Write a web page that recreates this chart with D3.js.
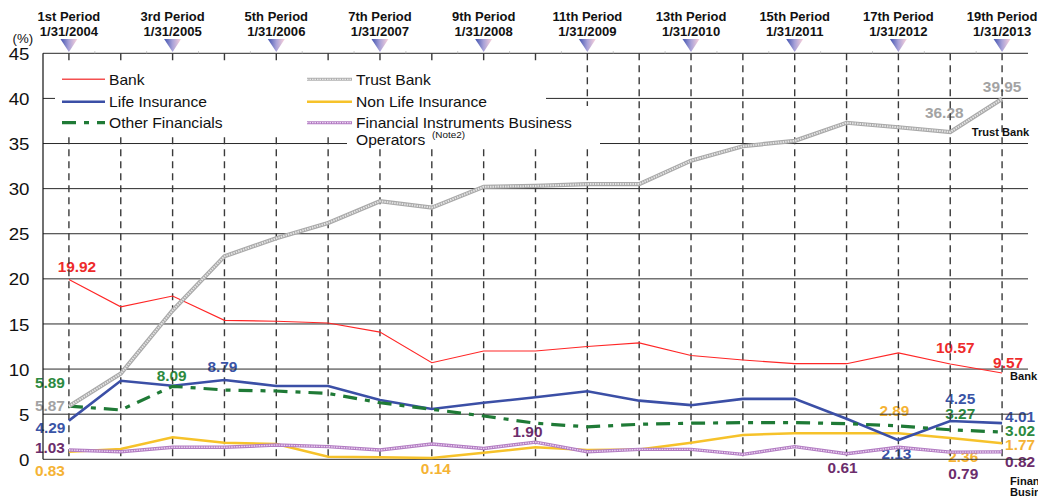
<!DOCTYPE html>
<html>
<head>
<meta charset="utf-8">
<script src="https://cdn.jsdelivr.net/npm/d3@7"></script>
<style>
  html, body { margin: 0; padding: 0; background: #fff; }
  svg { display: block; font-family: "Liberation Sans", Arial, Helvetica, sans-serif; }
</style>
</head>
<body>
<svg id="chart" width="1038" height="497"></svg>
<script>
// Fiscal periods (half-year, ending January / July)
const periodNames = ["1st Period","2nd Period","3rd Period","4th Period","5th Period","6th Period",
  "7th Period","8th Period","9th Period","10th Period","11th Period","12th Period","13th Period",
  "14th Period","15th Period","16th Period","17th Period","18th Period","19th Period"];
const periodDates = ["1/31/2004","7/31/2004","1/31/2005","7/31/2005","1/31/2006","7/31/2006",
  "1/31/2007","7/31/2007","1/31/2008","7/31/2008","1/31/2009","7/31/2009","1/31/2010",
  "7/31/2010","1/31/2011","7/31/2011","1/31/2012","7/31/2012","1/31/2013"];

// Unitholder ratios by investor type (%)
const bank      = [19.92, 16.9, 18.1, 15.4, 15.3, 15.1, 14.1, 10.7, 12.0, 12.0, 12.5, 12.9, 11.5, 11.0, 10.6, 10.6, 11.8, 10.57, 9.57];
const trustBank = [5.87, 9.5, 16.5, 22.5, 24.5, 26.2, 28.6, 27.9, 30.2, 30.3, 30.5, 30.5, 33.1, 34.7, 35.3, 37.3, 36.8, 36.28, 39.95];
const lifeIns   = [4.29, 8.7, 8.15, 8.79, 8.13, 8.13, 6.57, 5.58, 6.27, 6.87, 7.54, 6.5, 6.0, 6.7, 6.7, 4.5, 2.13, 4.25, 4.01];
const nonLifeIns = [0.83, 1.14, 2.44, 1.84, 1.7, 0.29, 0.22, 0.14, 0.73, 1.33, 1.03, 1.1, 1.84, 2.7, 2.88, 2.9, 2.89, 2.36, 1.77];
const otherFin  = [5.89, 5.47, 8.09, 7.68, 7.57, 7.3, 6.27, 5.54, 4.8, 4.0, 3.6, 3.88, 4.0, 4.06, 4.06, 3.95, 3.7, 3.27, 3.02];
const finInstr  = [1.03, 0.84, 1.33, 1.33, 1.58, 1.4, 1.03, 1.7, 1.2, 1.90, 0.84, 1.1, 1.1, 0.55, 1.4, 0.61, 1.33, 0.79, 0.82];

const yTicks = [0, 5, 10, 15, 20, 25, 30, 35, 40, 45];

const svg = d3.select("#chart");
const plot = { left: 43, right: 1028, top: 53.3, bottom: 459.3 };

const x = d3.scaleBand().domain(d3.range(periodNames.length)).range([plot.left, plot.right]);
const cx = i => x(i) + x.bandwidth() / 2;
const y = d3.scaleLinear().domain([0, 45]).range([plot.bottom, plot.top]);

// type is drawn slightly wide
function put(sel, px, py, anchor, sx) {
  return sel.attr("transform", `translate(${px},${py}) scale(${sx || 1.1},1)`)
            .attr("text-anchor", anchor || "start");
}

// gradient for period markers
const defs = svg.append("defs");
const grad = defs.append("linearGradient").attr("id", "markGrad")
  .attr("x1", "0%").attr("x2", "100%").attr("y1", "0%").attr("y2", "0%");
grad.append("stop").attr("offset", "0%").attr("stop-color", "#3f52b0");
grad.append("stop").attr("offset", "50%").attr("stop-color", "#a9a2d8");
grad.append("stop").attr("offset", "100%").attr("stop-color", "#fbd2da");

// header: odd periods
const header = svg.append("g");
periodNames.forEach((name, i) => {
  if (i % 2 !== 0) return;
  const px = cx(i);
  put(header.append("text"), px, 20.5, "middle", 1.03)
    .attr("font-size", 12.6).attr("font-weight", "bold").attr("fill", "#111").text(name);
  put(header.append("text"), px, 36, "middle", 1.04)
    .attr("font-size", 12.6).attr("font-weight", "bold").attr("fill", "#111").text(periodDates[i]);
  header.append("path")
    .attr("d", `M${px - 8.5},39 L${px + 8.5},39 L${px},52 Z`)
    .attr("fill", "url(#markGrad)");
});

// value labels (drawn beneath the grid and lines)
const labelColors = {
  bank: "#ee2b2b", trust: "#a3a3a3", life: "#3a54a6",
  other: "#2c8a40", nonLife: "#f5b334", fin: "#6c2d6c"
};
const dataByKey = { bank: bank, trust: trustBank, life: lifeIns, other: otherFin, nonLife: nonLifeIns, fin: finInstr };
const callouts = [
  { k: "bank", i: 0, dx: 8, dy: -13 },
  { k: "bank", i: 17, dx: 5, dy: -16 },
  { k: "bank", i: 18, dx: 6, dy: -10 },
  { k: "trust", i: 0, dx: -19, dy: 0 },
  { k: "trust", i: 17, dx: -6, dy: -19 },
  { k: "trust", i: 18, dx: 0, dy: -12 },
  { k: "life", i: 0, dx: -18.5, dy: 7.5 },
  { k: "life", i: 3, dx: -2, dy: -13 },
  { k: "life", i: 16, dx: -2, dy: 14 },
  { k: "life", i: 17, dx: 10, dy: -22 },
  { k: "life", i: 18, dx: 18, dy: -6 },
  { k: "other", i: 0, dx: -19, dy: -23 },
  { k: "other", i: 2, dx: -1, dy: -10 },
  { k: "other", i: 17, dx: 10, dy: -16 },
  { k: "other", i: 18, dx: 18, dy: -1 },
  { k: "nonLife", i: 0, dx: -19, dy: 19 },
  { k: "nonLife", i: 7, dx: 4, dy: 11 },
  { k: "nonLife", i: 16, dx: -4, dy: -22 },
  { k: "nonLife", i: 17, dx: 13, dy: 19 },
  { k: "nonLife", i: 18, dx: 18, dy: 2 },
  { k: "fin", i: 0, dx: -19, dy: -2 },
  { k: "fin", i: 9, dx: -8, dy: -10 },
  { k: "fin", i: 15, dx: -4, dy: 14 },
  { k: "fin", i: 17, dx: 13, dy: 22 },
  { k: "fin", i: 18, dx: 18, dy: 10 }
];
const labelG = svg.append("g");
callouts.forEach(c => {
  const v = dataByKey[c.k][c.i];
  put(labelG.append("text"), cx(c.i) + c.dx, y(v) + c.dy, "middle")
    .attr("dy", "0.36em")
    .attr("font-size", 14).attr("font-weight", "bold")
    .attr("fill", labelColors[c.k]).text(v.toFixed(2));
});

// grid
const grid = svg.append("g");
grid.selectAll("line.h").data(yTicks).join("line")
  .attr("x1", plot.left).attr("x2", plot.right)
  .attr("y1", d => y(d)).attr("y2", d => y(d))
  .attr("stroke", "#2a2a2a").attr("stroke-width", 1);
grid.selectAll("line.v").data(d3.range(periodNames.length)).join("line")
  .attr("x1", d => cx(d)).attr("x2", d => cx(d))
  .attr("y1", plot.top).attr("y2", plot.bottom)
  .attr("stroke", "#3a3a3a").attr("stroke-width", 1.4)
  .attr("stroke-dasharray", "7,5");
// small category ticks on the top edge
grid.selectAll("line.t").data(d3.range(1, periodNames.length)).join("line")
  .attr("x1", d => x(d)).attr("x2", d => x(d))
  .attr("y1", plot.top - 2).attr("y2", plot.top)
  .attr("stroke", "#bbb").attr("stroke-width", 1);
grid.append("line")
  .attr("x1", plot.left).attr("x2", plot.left)
  .attr("y1", plot.top).attr("y2", plot.bottom)
  .attr("stroke", "#111").attr("stroke-width", 1.2);

// y axis labels
const yAxis = svg.append("g")
  .attr("transform", `translate(${plot.left},0)`)
  .call(d3.axisLeft(y).tickValues(yTicks).tickSize(0).tickPadding(0));
yAxis.select(".domain").remove();
yAxis.selectAll(".tick text").each(function() {
  const t = d3.select(this);
  t.attr("x", null).attr("dy", null).attr("font-family", null);
  put(t, -13.5, 0, "end").attr("dy", "0.36em").attr("font-size", 17).attr("fill", "#111");
});
put(svg.append("text"), 12.5, 43, "start").attr("font-size", 12).attr("fill", "#111").text("(%)");

// legend background
const legend = svg.append("g");
legend.append("rect").attr("x", 55).attr("y", 62).attr("width", 491).attr("height", 73).attr("fill", "#fff");
legend.append("rect").attr("x", 347).attr("y", 106).attr("width", 253).attr("height", 42).attr("fill", "#fff");

// series lines
const line = d3.line().x((d, i) => cx(i)).y(d => y(d));
const lines = svg.append("g").attr("fill", "none").attr("stroke-linejoin", "miter");

function texturedPath(g, values, base, baseW, top, topW) {
  g.append("path").attr("d", line(values)).attr("stroke", base).attr("stroke-width", baseW);
  g.append("path").attr("d", line(values)).attr("stroke", top).attr("stroke-width", topW)
    .attr("stroke-dasharray", "1.5,1");
}

lines.append("path").attr("d", line(nonLifeIns)).attr("stroke", "#f6c22a").attr("stroke-width", 2.5);
texturedPath(lines, finInstr, "#b27cc2", 3.4, "#ecd4f2", 1.4);
lines.append("path").attr("d", line(lifeIns)).attr("stroke", "#3b4fa6").attr("stroke-width", 2.6);
lines.append("path").attr("d", line(otherFin)).attr("stroke", "#1f7a36").attr("stroke-width", 3.2)
  .attr("stroke-dasharray", "14,8,5,8");
lines.append("path").attr("d", line(bank)).attr("stroke", "#ff2626").attr("stroke-width", 1.1);
texturedPath(lines, trustBank, "#a9a9a9", 4.2, "#e4e4e4", 2);

// series names at the right edge
const nameG = svg.append("g");
const edgeNames = [["Trust Bank", 971.7, 132.3], ["Bank", 1010, 375.7],
                   ["Financial Instruments", 1010, 481], ["Business Operators", 1010, 492.3]];
edgeNames.forEach(d => {
  put(nameG.append("text"), d[1], d[2], "start", 1.05).attr("dy", "0.36em")
    .attr("font-size", 10.6).attr("font-weight", "bold").attr("fill", "#111").text(d[0]);
});

// legend entries
const legendItems = [
  { name: "Bank", col: 0, row: 0, draw: g => g.append("line").attr("stroke", "#f45050").attr("stroke-width", 1.6) },
  { name: "Life Insurance", col: 0, row: 1, draw: g => g.append("line").attr("stroke", "#3b4fa6").attr("stroke-width", 2.6) },
  { name: "Other Financials", col: 0, row: 2, draw: g => g.append("line").attr("stroke", "#1f7a36").attr("stroke-width", 3.2).attr("stroke-dasharray", "14,8,5,8") },
  { name: "Trust Bank", col: 1, row: 0, draw: g => { g.append("line").attr("stroke", "#b0b0b0").attr("stroke-width", 3); g.append("line").attr("stroke", "#e6e6e6").attr("stroke-width", 1.3).attr("stroke-dasharray", "1.5,1"); } },
  { name: "Non Life Insurance", col: 1, row: 1, draw: g => g.append("line").attr("stroke", "#f6c22a").attr("stroke-width", 2.6) },
  { name: "Financial Instruments Business", col: 1, row: 2, draw: g => { g.append("line").attr("stroke", "#b27cc2").attr("stroke-width", 3); g.append("line").attr("stroke", "#ecd4f2").attr("stroke-width", 1.2).attr("stroke-dasharray", "1.5,1"); } }
];
const colX = [[62, 105, 109], [307, 352, 356]];
const rowY = [79.3, 101.7, 122.7];
legendItems.forEach(it => {
  const g = legend.append("g");
  it.draw(g);
  g.selectAll("line").attr("x1", colX[it.col][0]).attr("x2", colX[it.col][1])
    .attr("y1", rowY[it.row]).attr("y2", rowY[it.row]);
  put(legend.append("text"), colX[it.col][2], rowY[it.row] + 5.2, "start")
    .attr("font-size", 14.2).attr("fill", "#111").text(it.name);
});
put(legend.append("text"), 356, 144.5, "start").attr("font-size", 14.2).attr("fill", "#111").text("Operators");
put(legend.append("text"), 432, 137.5, "start").attr("font-size", 9).attr("fill", "#111").text("(Note2)");
</script>
</body>
</html>
